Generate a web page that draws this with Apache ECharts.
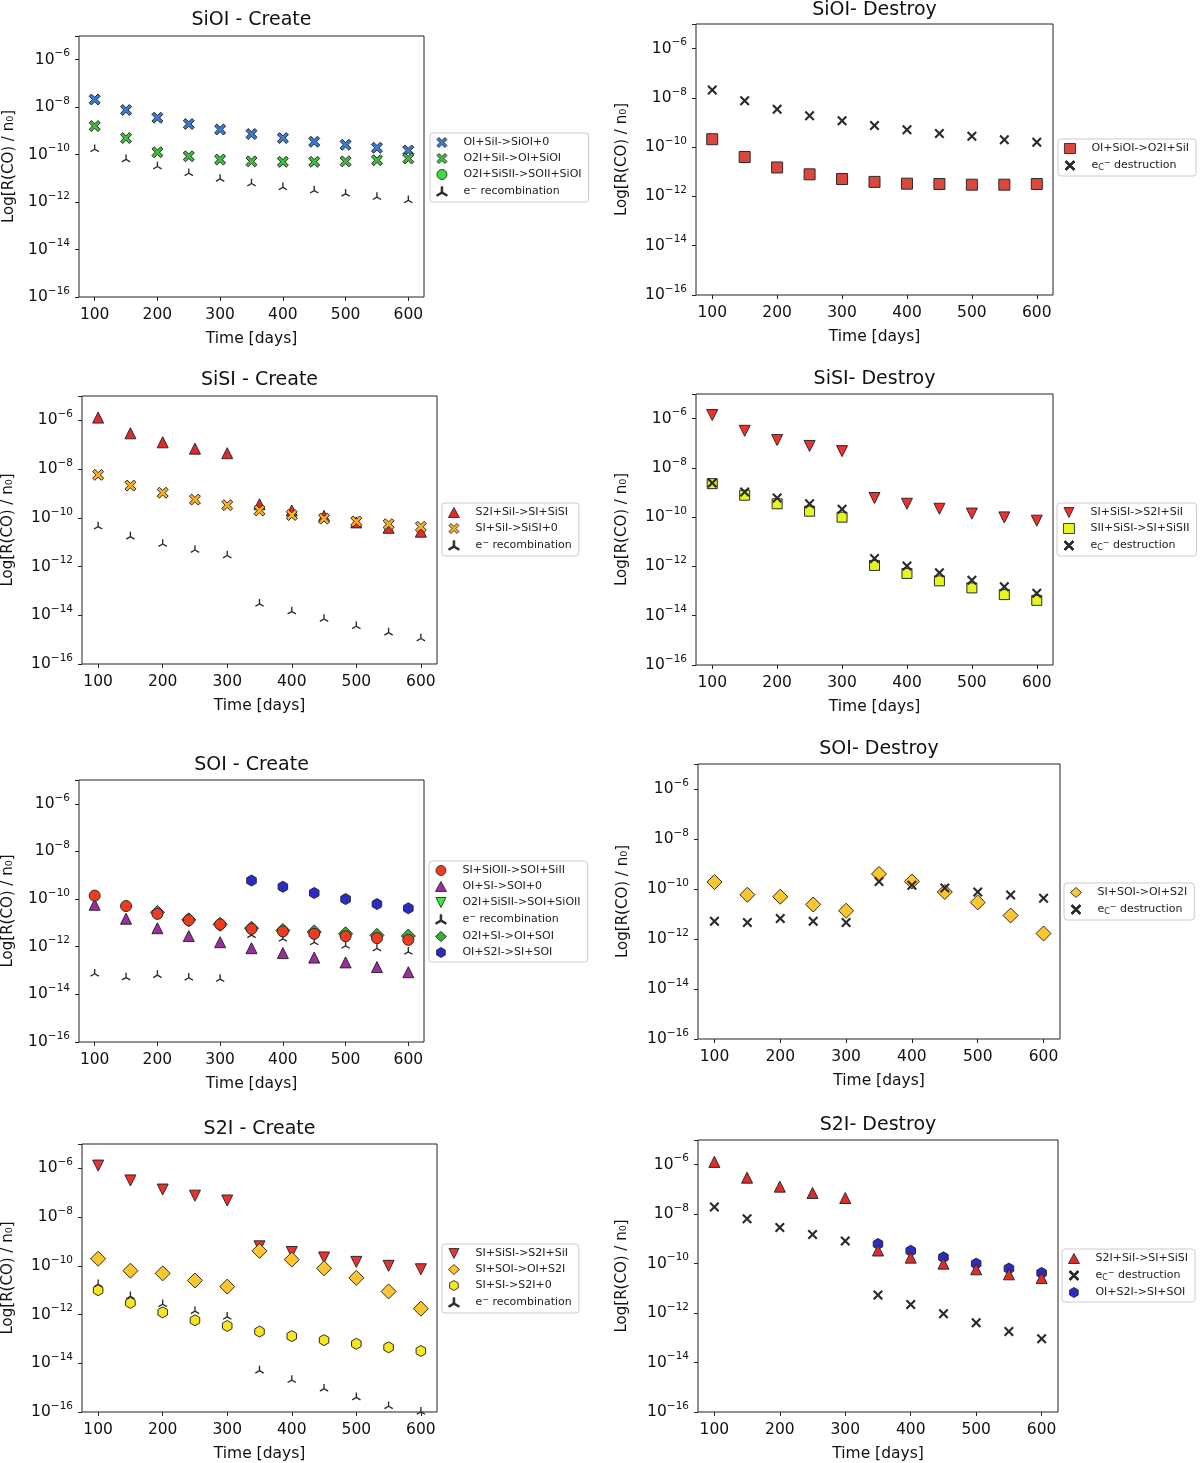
<!DOCTYPE html>
<html><head><meta charset="utf-8">
<script src="https://cdn.jsdelivr.net/npm/echarts@6/dist/echarts.min.js"></script>
<style>html,body{margin:0;padding:0;background:#fff}#c{width:1200px;height:1463px}</style>
</head><body><div id="c"></div>
<script>
// ---------- DATA ----------
const days = [100, 150, 200, 250, 300, 350, 400, 450, 500, 550, 600];
const xTickValues = [100, 200, 300, 400, 500, 600];

// SiOI - Create
const siOIc_OI_SiI = [2.1e-8, 7.6e-9, 3.6e-9, 1.95e-9, 1.15e-9, 7.4e-10, 5.0e-10, 3.5e-10, 2.6e-10, 1.95e-10, 1.5e-10];
const siOIc_O2I_SiI = [1.6e-9, 5.0e-10, 1.26e-10, 8.5e-11, 6.2e-11, 5.2e-11, 5.0e-11, 5.0e-11, 5.2e-11, 5.8e-11, 6.9e-11];
const siOIc_O2I_SiSII = [1.6e-9, 5.0e-10, 1.26e-10, 8.5e-11, 6.2e-11, 5.2e-11, 5.0e-11, 5.0e-11, 5.2e-11, 5.8e-11, 6.9e-11];
const siOIc_erec = [1.66e-10, 6.2e-11, 3.1e-11, 1.62e-11, 9.3e-12, 6.0e-12, 4.1e-12, 3.0e-12, 2.2e-12, 1.6e-12, 1.17e-12];

// SiOI - Destroy
const siOId_OI_SiOI = [2.1e-10, 4.0e-11, 1.5e-11, 7.9e-12, 5.1e-12, 3.9e-12, 3.3e-12, 3.2e-12, 3.0e-12, 3.0e-12, 3.2e-12];
const siOId_eC = [2.1e-8, 7.6e-9, 3.5e-9, 1.9e-9, 1.17e-9, 7.6e-10, 5.1e-10, 3.6e-10, 2.75e-10, 2.0e-10, 1.6e-10];

// SiSI - Create
const siSIc_S2I_SiI = [1.3e-6, 2.95e-7, 1.26e-7, 6.9e-8, 4.5e-8, 3.6e-10, 2.0e-10, 1.2e-10, 6.5e-11, 3.9e-11, 2.7e-11];
const siSIc_SI_SiI = [5.8e-9, 2.1e-9, 1.07e-9, 5.6e-10, 3.3e-10, 2.0e-10, 1.3e-10, 9.3e-11, 7.1e-11, 5.5e-11, 4.3e-11];
const siSIc_erec = [4.3e-11, 1.66e-11, 8.3e-12, 4.7e-12, 2.8e-12, 2.9e-14, 1.4e-14, 6.9e-15, 3.5e-15, 1.9e-15, 1.1e-15];

// SiSI - Destroy
const siSId_SI_SiSI = [1.4e-6, 3.2e-7, 1.35e-7, 7.8e-8, 4.8e-8, 6.0e-10, 3.5e-10, 2.2e-10, 1.4e-10, 9.8e-11, 7.2e-11];
const siSId_SII_SiSI = [2.3e-9, 7.8e-10, 3.5e-10, 1.75e-10, 1.0e-10, 1.1e-12, 5.2e-13, 2.6e-13, 1.35e-13, 7.2e-14, 4.2e-14];
const siSId_eC = [2.45e-9, 1.05e-9, 6.0e-10, 3.5e-10, 2.1e-10, 2.1e-12, 1.05e-12, 5.5e-13, 2.75e-13, 1.5e-13, 8.1e-14];

// SOI - Create
const sOIc_SI_SiOII = [1.4e-10, 5.1e-11, 2.4e-11, 1.3e-11, 8.7e-12, 5.6e-12, 4.4e-12, 3.5e-12, 2.75e-12, 2.3e-12, 1.95e-12];
const sOIc_OI_SI = [5.8e-11, 1.5e-11, 6.0e-12, 2.8e-12, 1.55e-12, 8.7e-13, 5.4e-13, 3.5e-13, 2.2e-13, 1.4e-13, 8.5e-14];
const sOIc_O2I_SiSII = [null, null, 2.4e-11, 1.3e-11, 8.7e-12, 5.6e-12, 4.4e-12, 3.5e-12, 2.75e-12, 2.3e-12, 1.95e-12];
const sOIc_erec = [7.2e-14, 5.0e-14, 6.3e-14, 4.9e-14, 4.3e-14, 3.0e-12, 2.1e-12, 1.5e-12, 1.07e-12, 8.3e-13, 6.0e-13];
const sOIc_O2I_SI = [null, null, 2.75e-11, 1.35e-11, 8.7e-12, 6.0e-12, 4.8e-12, 4.2e-12, 3.5e-12, 3.0e-12, 2.8e-12];
const sOIc_OI_S2I = [null, null, null, null, null, 6.0e-10, 3.3e-10, 1.8e-10, 1.0e-10, 6.2e-11, 4.1e-11];

// SOI - Destroy
const sOId_SI_SOI = [1.9e-10, 5.9e-11, 4.9e-11, 2.4e-11, 1.35e-11, 4.0e-10, 2.0e-10, 7.6e-11, 2.9e-11, 8.7e-12, 1.66e-12];
const sOId_eC = [5.1e-12, 4.6e-12, 6.6e-12, 5.1e-12, 4.6e-12, 2.0e-10, 1.4e-10, 1.1e-10, 7.6e-11, 5.8e-11, 4.3e-11];

// S2I - Create
const s2Ic_SI_SiSI = [1.3e-6, 3.2e-7, 1.35e-7, 7.6e-8, 4.8e-8, 6.3e-10, 3.7e-10, 2.2e-10, 1.45e-10, 1.0e-10, 7.2e-11];
const s2Ic_SI_SOI = [1.95e-10, 6.3e-11, 4.9e-11, 2.5e-11, 1.4e-11, 4.1e-10, 1.8e-10, 7.9e-11, 3.2e-11, 8.9e-12, 1.74e-12];
const s2Ic_SI_SI = [1.0e-11, 3.0e-12, 1.23e-12, 5.8e-13, 3.4e-13, 2.0e-13, 1.3e-13, 8.9e-14, 6.3e-14, 4.5e-14, 3.2e-14];
const s2Ic_erec = [1.7e-11, 5.5e-12, 2.6e-12, 1.35e-12, 7.9e-13, 4.9e-15, 2.0e-15, 8.9e-16, 3.9e-16, 1.7e-16, 1.0e-16];

// S2I - Destroy
const s2Id_S2I_SiI = [1.3e-6, 3.0e-7, 1.3e-7, 7.2e-8, 4.5e-8, 3.4e-10, 1.75e-10, 1.0e-10, 5.9e-11, 3.7e-11, 2.6e-11];
const s2Id_eC = [1.95e-8, 6.5e-9, 2.9e-9, 1.5e-9, 8.3e-10, 5.4e-12, 2.2e-12, 9.3e-13, 4.1e-13, 1.8e-13, 9.1e-14];
const s2Id_OI_S2I = [null, null, null, null, null, 6.2e-10, 3.3e-10, 1.8e-10, 1.0e-10, 6.3e-11, 4.2e-11];

// ---------- STYLES ----------
const P_XFILL = 'path://M0,2L2,0L5,3L8,0L10,2L7,5L10,8L8,10L5,7L2,10L0,8L3,5Z';
const P_XTHIN = 'path://M0,1.5L1.5,0L5,3.5L8.5,0L10,1.5L6.5,5L10,8.5L8.5,10L5,6.5L1.5,10L0,8.5L3.5,5Z';
const P_TRI = 'path://M7.26,0L10.06,0L10.06,10L7.26,10ZM7.96,8.79L9.36,11.21L0.7,16.21L-0.7,13.79ZM18.02,13.79L16.62,16.21L7.96,11.21L9.36,8.79Z';
const P_HEX = 'path://M5,0L9.33,2.5L9.33,7.5L5,10L0.67,7.5L0.67,2.5Z';
const P_TDOWN = 'path://M0,0L10,0L5,10Z';

const ST = {
  blueX: { symbol: P_XFILL, size: 11, color: '#3a7bd5', border: true },
  greenX: { symbol: P_XFILL, size: 11, color: '#3cc03c', border: true },
  greenCircle: { symbol: 'circle', size: 4, color: '#3ddc3d', border: true },
  tri: { symbol: P_TRI, size: 9, color: '#2a2a2a', border: false, offset: [0, '-12%'] },
  redSquare: { symbol: 'rect', size: 11, color: '#d9473f', border: true },
  blackX: { symbol: P_XTHIN, size: 10, color: '#2a2a2a', border: false },
  redTriUp: { symbol: 'triangle', size: 11, color: '#e02b2b', border: true },
  orangeX: { symbol: P_XFILL, size: 11, color: '#ffae1f', border: true },
  redTriDown: { symbol: P_TDOWN, size: 11, color: '#f03030', border: true },
  yellowSquare: { symbol: 'rect', size: 10, color: '#e6f51e', border: true },
  redCircle: { symbol: 'circle', size: 11, color: '#f03c1e', border: true },
  purpleTri: { symbol: 'triangle', size: 11, color: '#9a2e9e', border: true },
  greenTriDown: { symbol: P_TDOWN, size: 7, color: '#33ee33', border: true },
  greenDiamond: { symbol: 'diamond', size: 14, color: '#33b233', border: true },
  blueHex: { symbol: P_HEX, size: 11, color: '#2a2ac6', border: true },
  orangeDiamond: { symbol: 'diamond', size: 15, color: '#fcc62c', border: true },
  yellowHex: { symbol: P_HEX, size: 11, color: '#f7e61c', border: true }
};

const N_EREC = 'e^- recombination';
const N_EC = 'e_C^- destruction';

// panels: draw order = series order; legend order given separately
const panels = [
  { title: 'SiOI - Create', grid: { left: 79, top: 36, width: 345, height: 261 }, tTop: 11, yGap: 62,
    lg: { left: 430, top: 133 },
    series: [
      ['O2I+SiSII->SOII+SiOI', siOIc_O2I_SiSII, 'greenCircle'],
      ['OI+SiI->SiOI+0', siOIc_OI_SiI, 'blueX'],
      ['O2I+SiI->OI+SiOI', siOIc_O2I_SiI, 'greenX'],
      [N_EREC, siOIc_erec, 'tri']
    ],
    legend: ['OI+SiI->SiOI+0', 'O2I+SiI->OI+SiOI', 'O2I+SiSII->SOII+SiOI', N_EREC] },
  { title: 'SiOI- Destroy', grid: { left: 696, top: 24, width: 357, height: 271 }, tTop: 1, yGap: 66,
    lg: { left: 1058, top: 139 },
    series: [
      ['OI+SiOI->O2I+SiI', siOId_OI_SiOI, 'redSquare'],
      [N_EC, siOId_eC, 'blackX']
    ],
    legend: ['OI+SiOI->O2I+SiI', N_EC] },
  { title: 'SiSI - Create', grid: { left: 82, top: 396, width: 355, height: 268 }, tTop: 371, yGap: 66,
    lg: { left: 442, top: 503 },
    series: [
      ['S2I+SiI->SI+SiSI', siSIc_S2I_SiI, 'redTriUp'],
      ['SI+SiI->SiSI+0', siSIc_SI_SiI, 'orangeX'],
      [N_EREC, siSIc_erec, 'tri']
    ],
    legend: ['S2I+SiI->SI+SiSI', 'SI+SiI->SiSI+0', N_EREC] },
  { title: 'SiSI- Destroy', grid: { left: 696, top: 394, width: 357, height: 271 }, tTop: 370, yGap: 66,
    lg: { left: 1057, top: 503 },
    series: [
      ['SI+SiSI->S2I+SiI', siSId_SI_SiSI, 'redTriDown'],
      ['SII+SiSI->SI+SiSII', siSId_SII_SiSI, 'yellowSquare'],
      [N_EC, siSId_eC, 'blackX']
    ],
    legend: ['SI+SiSI->S2I+SiI', 'SII+SiSI->SI+SiSII', N_EC] },
  { title: 'SOI - Create', grid: { left: 79, top: 780, width: 345, height: 262 }, tTop: 756, yGap: 63,
    lg: { left: 429, top: 861 },
    series: [
      ['O2I+SI->OI+SOI', sOIc_O2I_SI, 'greenDiamond'],
      ['O2I+SiSII->SOI+SiOII', sOIc_O2I_SiSII, 'greenTriDown'],
      ['OI+SI->SOI+0', sOIc_OI_SI, 'purpleTri'],
      [N_EREC, sOIc_erec, 'tri'],
      ['OI+S2I->SI+SOI', sOIc_OI_S2I, 'blueHex'],
      ['SI+SiOII->SOI+SiII', sOIc_SI_SiOII, 'redCircle']
    ],
    legend: ['SI+SiOII->SOI+SiII', 'OI+SI->SOI+0', 'O2I+SiSII->SOI+SiOII', N_EREC, 'O2I+SI->OI+SOI', 'OI+S2I->SI+SOI'] },
  { title: 'SOI- Destroy', grid: { left: 698, top: 764, width: 362, height: 275 }, tTop: 740, yGap: 67,
    lg: { left: 1064, top: 883 },
    series: [
      ['SI+SOI->OI+S2I', sOId_SI_SOI, 'orangeDiamond'],
      [N_EC, sOId_eC, 'blackX']
    ],
    legend: ['SI+SOI->OI+S2I', N_EC] },
  { title: 'S2I - Create', grid: { left: 82, top: 1144, width: 355, height: 270 }, tTop: 1120, yGap: 66,
    lg: { left: 442, top: 1244 },
    series: [
      ['SI+SiSI->S2I+SiI', s2Ic_SI_SiSI, 'redTriDown'],
      ['SI+SOI->OI+S2I', s2Ic_SI_SOI, 'orangeDiamond'],
      ['SI+SI->S2I+0', s2Ic_SI_SI, 'yellowHex'],
      [N_EREC, s2Ic_erec, 'tri']
    ],
    legend: ['SI+SiSI->S2I+SiI', 'SI+SOI->OI+S2I', 'SI+SI->S2I+0', N_EREC] },
  { title: 'S2I- Destroy', grid: { left: 698, top: 1140, width: 360, height: 273 }, tTop: 1116, yGap: 68,
    lg: { left: 1062, top: 1249 },
    series: [
      ['OI+S2I->SI+SOI', s2Id_OI_S2I, 'blueHex'],
      ['S2I+SiI->SI+SiSI', s2Id_S2I_SiI, 'redTriUp'],
      [N_EC, s2Id_eC, 'blackX']
    ],
    legend: ['S2I+SiI->SI+SiSI', N_EC, 'OI+S2I->SI+SOI'] }
];

// ---------- BUILD ----------
const FONT = 'DejaVu Sans';
const option = {
  backgroundColor: '#fff', animation: false,
  title: [], grid: [], xAxis: [], yAxis: [], legend: [], series: []
};

panels.forEach((p, i) => {
  const g = p.grid;
  option.grid.push(Object.assign({ show: true, borderColor: '#222', borderWidth: 1, backgroundColor: 'transparent', containLabel: false }, g));
  option.title.push({
    text: p.title, left: g.left + g.width / 2, top: p.tTop, textAlign: 'center', padding: 0,
    textStyle: { fontFamily: FONT, fontSize: 19, fontWeight: 'normal', color: '#111' }
  });
  option.xAxis.push({
    type: 'value', gridIndex: i, min: 75, max: 625,
    name: 'Time [days]', nameLocation: 'middle', nameGap: 34,
    nameTextStyle: { fontFamily: FONT, fontSize: 15.5, color: '#111' },
    axisLine: { show: false }, splitLine: { show: false },
    axisTick: { show: true, inside: false, length: 4, customValues: xTickValues, lineStyle: { color: '#222', width: 1 } },
    axisLabel: { customValues: xTickValues, margin: 10, fontFamily: FONT, fontSize: 15.5, color: '#111' }
  });
  option.yAxis.push({
    type: 'log', logBase: 10, gridIndex: i, min: 1e-16, max: 1e-5, interval: 2,
    name: 'Log[R(CO) / n\u2080]', nameLocation: 'middle', nameRotate: 90, nameGap: p.yGap,
    nameTextStyle: { fontFamily: FONT, fontSize: 15, color: '#111' },
    axisLine: { show: false }, splitLine: { show: false },
    axisTick: { show: true, inside: false, length: 4, lineStyle: { color: '#222', width: 1 } },
    axisLabel: {
      margin: 9, fontFamily: FONT, fontSize: 15.5, color: '#111', showMaxLabel: true,
      formatter: v => {
        const e = Math.round(Math.log10(v));
        if (e > -6 || e % 2 !== 0) return '';
        return '10{sup|\u2212' + (-e) + '}';
      },
      rich: { sup: { fontFamily: FONT, fontSize: 10.5, color: '#111', padding: [0, 0, 12, 0] } }
    }
  });
  p.series.forEach(([name, vals, styleKey]) => {
    const s = ST[styleKey];
    const ser = {
      type: 'scatter', name: name, xAxisIndex: i, yAxisIndex: i,
      symbol: s.symbol, symbolSize: s.size, symbolKeepAspect: true,
      itemStyle: { color: s.color, borderColor: s.border ? '#2b2b2b' : s.color, borderWidth: s.border ? 1 : 0, opacity: 1 },
      emphasis: { disabled: true },
      data: days.map((d, k) => vals[k] == null ? null : [d, vals[k]])
    };
    if (s.offset) ser.symbolOffset = s.offset;
    option.series.push(ser);
  });
  option.legend.push({
    left: p.lg.left, top: p.lg.top, orient: 'vertical', selectedMode: false,
    data: p.legend, itemWidth: 11, itemHeight: 10, itemGap: 5,
    itemStyle: { borderWidth: 0.9 },
    padding: [4, 7, 4, 6], borderColor: '#cccccc', borderWidth: 1, borderRadius: 3, backgroundColor: '#fff',
    formatter: n => n === N_EREC ? 'e{sup|\u2212} recombination' : (n === N_EC ? 'e{sub|C}{sup|\u2212} destruction' : n),
    textStyle: {
      fontFamily: FONT, fontSize: 11, color: '#222', lineHeight: 11, padding: [0, 0, 0, 11],
      rich: {
        sup: { fontFamily: FONT, fontSize: 8, color: '#222', lineHeight: 8, padding: [0, 0, 5, 0] },
        sub: { fontFamily: FONT, fontSize: 8, color: '#222', lineHeight: 8, padding: [4, 0, 0, 0] }
      }
    }
  });
});

const chart = echarts.init(document.getElementById('c'), null, { renderer: 'canvas' });
chart.setOption(option);
</script>
</body></html>
